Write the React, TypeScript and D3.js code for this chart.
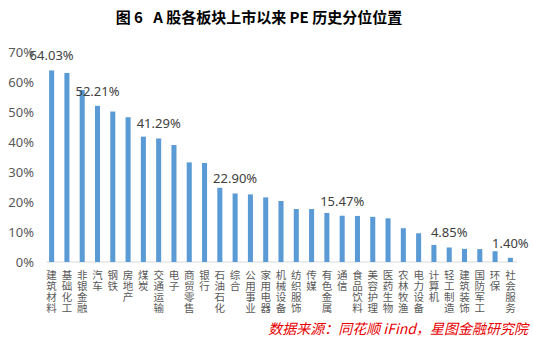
import React from "react";
import * as d3 from "d3";

const categories = [
  "建筑材料", "基础化工", "非银金融", "汽车", "钢铁", "房地产", "煤炭", "交通运输",
  "电子", "商贸零售", "银行", "石油石化", "综合", "公用事业", "家用电器", "机械设备",
  "纺织服饰", "传媒", "有色金属", "通信", "食品饮料", "美容护理", "医药生物", "农林牧渔",
  "电力设备", "计算机", "轻工制造", "建筑装饰", "国防军工", "环保", "社会服务",
];
const values = [
  64.03, 63.2, 57.5, 52.21, 50.3, 48.4, 41.9, 41.29,
  39.1, 33.3, 33.1, 24.8, 22.9, 22.6, 21.6, 20.4,
  17.7, 17.7, 16.4, 15.47, 15.4, 15.1, 14.6, 11.3,
  9.6, 5.7, 4.85, 4.4, 4.3, 3.6, 1.4,
];
const labeledIdx = [0, 3, 7, 12, 19, 26, 30];
const yTicks = [0, 10, 20, 30, 40, 50, 60, 70];
const title = "图 6   A 股各板块上市以来 PE 历史分位位置";
const source = "数据来源：同花顺 iFind，星图金融研究院";

export default function App() {
  const W = 533, H = 355;
  const x = d3.scaleBand<string>().domain(categories).range([46.5, 515.5]).paddingInner(0.67).paddingOuter(0.17);
  const y = d3.scaleLinear().domain([0, 70]).range([262, 52.6]);
  const numFont = "'Noto Sans', 'Open Sans', sans-serif";
  const cjk = "'Noto Sans CJK SC', sans-serif";
  return (
    <svg width={W} height={H} style={{ position: "absolute", left: 0, top: 0, background: "#fff" }}>
      <text x={259} y={23} textAnchor="middle" fontFamily={cjk} fontWeight={700} fontSize={15} fill="#000" style={{ whiteSpace: "pre" }}>{title}</text>
      {yTicks.map((t) => (
        <text key={t} x={34} y={y(t)} dy="0.35em" textAnchor="end" fontFamily={numFont} fontSize={13} fill="#595959">{t}%</text>
      ))}
      <line x1={46} x2={517} y1={y(0)} y2={y(0)} stroke="#d9d9d9" strokeWidth={1} />
      {categories.map((c, i) => (
        <rect key={c} x={x(c)} y={y(values[i])} width={x.bandwidth()} height={y(0) - y(values[i])} fill="#5B9BD5" />
      ))}
      {labeledIdx.map((i) => (
        <text key={i} x={(x(categories[i]) as number) + x.bandwidth() / 2} y={y(values[i]) - 10} textAnchor="middle" fontFamily={numFont} fontSize={13} fill="#404040">
          {values[i].toFixed(2)}%
        </text>
      ))}
      {categories.map((c) => (
        <g key={c}>
          {Array.from(c).map((ch, k) => (
            <text key={k} x={(x(c) as number) + x.bandwidth() / 2} y={279 + k * 11} textAnchor="middle" fontFamily={cjk} fontSize={10.5} fill="#595959">{ch}</text>
          ))}
        </g>
      ))}
      <text x={528} y={334} textAnchor="end" fontFamily={cjk} fontStyle="italic" fontSize={14} fill="#e60000">{source}</text>
    </svg>
  );
}
